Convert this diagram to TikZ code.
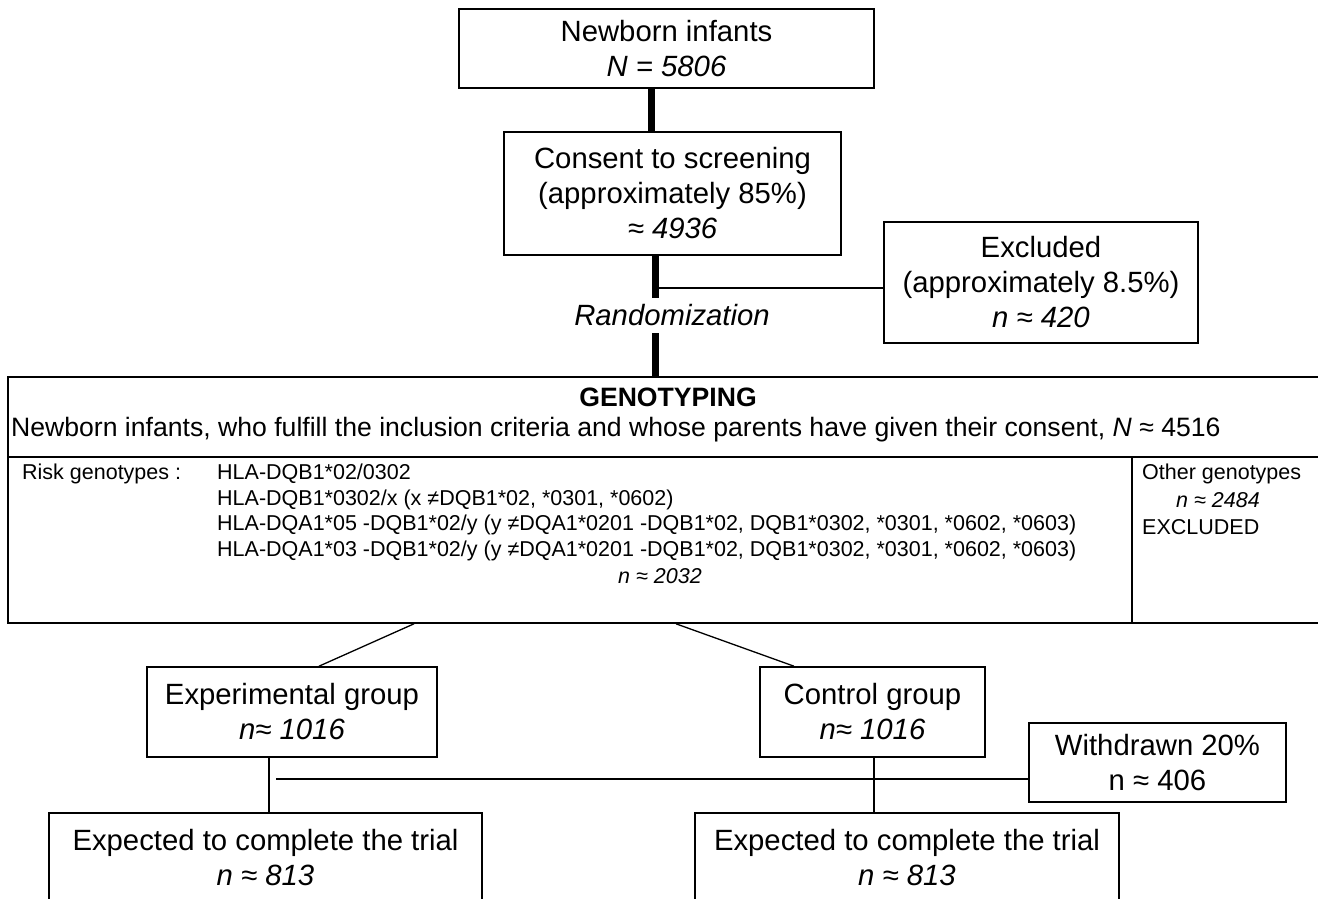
\documentclass[tikz,border=0pt]{standalone}
\usepackage{fontspec}
\setmainfont{Liberation Sans}
\usetikzlibrary{positioning}
\begin{document}
\begin{tikzpicture}[x=1pt,y=-1pt,
        box/.style={draw, line width=1.6pt, align=center, inner sep=0pt, font=\fontsize{29.3}{35}\selectfont},
        bigtext/.style={inner sep=0pt, font=\fontsize{26.6}{30}\selectfont},
        smalltext/.style={inner sep=0pt, anchor=west, font=\fontsize{21.5}{25.5}\selectfont},
        thickline/.style={line width=7pt},
        thinline/.style={line width=1.3pt}]
        \useasboundingbox (0,0) rectangle (1318,899);
        \clip (0,0) rectangle (1318,899);
        % screening part
        \node[box, minimum width=415pt, minimum height=79pt] (newborn) at (666.5,48.5) {Newborn infants\\\textit{N = 5806}};
        \node[box, minimum width=337pt, minimum height=123pt] (consent) at (672.5,193.5) {Consent to screening\\ (approximately 85\%)\\\textit{≈ 4936}};
        \node[box, minimum width=314pt, minimum height=121pt] (excluded) at (1041,282.5) {Excluded\\(approximately 8.5\%)\\\textit{n ≈ 420}};
        \node[inner sep=0pt, minimum height=35pt, font=\itshape\fontsize{29.3}{35}\selectfont] (rand) at (672,315.5) {Randomization};
        \draw[thickline] ([xshift=-15.5pt]newborn.south) -- ([xshift=-21.5pt]consent.north);
        \draw[thickline] ([xshift=-17.5pt]consent.south) -- ([xshift=-17pt]rand.north);
        \coordinate (branch) at (655,288);
        \draw[thinline] (branch) -- (branch -| excluded.west);
        % genotyping box
        \node[box, minimum width=1322pt, minimum height=246pt] (geno) at (669,500) {};
        \draw[thickline] ([xshift=-17pt]rand.south) -- ([xshift=-14pt]geno.north);
        \draw[line width=1.6pt] (geno.west |- 0,457) -- (geno.east |- 0,457);
        \draw[line width=1.6pt] (1132,457) -- (1132,623);
        \node[bigtext, font=\bfseries\fontsize{26.6}{30}\selectfont] (genotitle) at (668,397) {GENOTYPING};
        \node[bigtext, anchor=west] (genoline) at (11,430) {Newborn infants, who fulfill the inclusion criteria and whose parents have given their consent, \textit{N} ≈ 4516};
        \node[smalltext] (risklabel) at (22,474) {Risk genotypes :};
        \foreach \txt [count=\i] in {{HLA-DQB1*02/0302},
                {HLA-DQB1*0302/x (x ≠DQB1*02, *0301, *0602)},
                {HLA-DQA1*05 -DQB1*02/y (y ≠DQA1*0201 -DQB1*02, DQB1*0302, *0301, *0602, *0603)},
                {HLA-DQA1*03 -DQB1*02/y (y ≠DQA1*0201 -DQB1*02, DQB1*0302, *0301, *0602, *0603)}}
            \node[smalltext] (hla\i) at (217,{448.5+25.5*\i}) {\txt};
        \node[smalltext, anchor=center] (riskn) at (660,576) {\textit{n ≈ 2032}};
        \node[smalltext] (other) at (1142,474) {Other genotypes};
        \node[smalltext] (othern) at (1176,500) {\textit{n ≈ 2484}};
        \node[smalltext] (otherex) at (1142,527) {EXCLUDED};
        % trial groups
        \node[box, minimum width=290pt, minimum height=90pt] (exp) at (292,712) {Experimental group\\\textit{n≈ 1016}};
        \node[box, minimum width=225pt, minimum height=90pt] (ctrl) at (872.5,712) {Control group\\\textit{n≈ 1016}};
        \node[box, minimum width=257pt, minimum height=79pt] (withdrawn) at (1157.5,762.5) {Withdrawn 20\%\\n ≈ 406};
        \node[box, minimum width=433pt, minimum height=90pt] (expend) at (265.5,858) {Expected to complete the trial\\\textit{n ≈ 813}};
        \node[box, minimum width=424pt, minimum height=90pt] (ctrlend) at (907,858) {Expected to complete the trial\\\textit{n ≈ 813}};
        \draw[thinline] ([xshift=-255pt]geno.south) -- ([xshift=27pt]exp.north);
        \draw[thinline] ([xshift=7pt]geno.south) -- ([xshift=-78.5pt]ctrl.north);
        \draw[thinline] ([xshift=-23pt]exp.south) -- ([xshift=3.5pt]expend.north);
        \draw[thinline] ([xshift=1.5pt]ctrl.south) -- ([xshift=-33pt]ctrlend.north);
        \coordinate (wstart) at (276,779);
        \draw[line width=2pt] (wstart) -- (wstart -| withdrawn.west);
\end{tikzpicture}
\end{document}
